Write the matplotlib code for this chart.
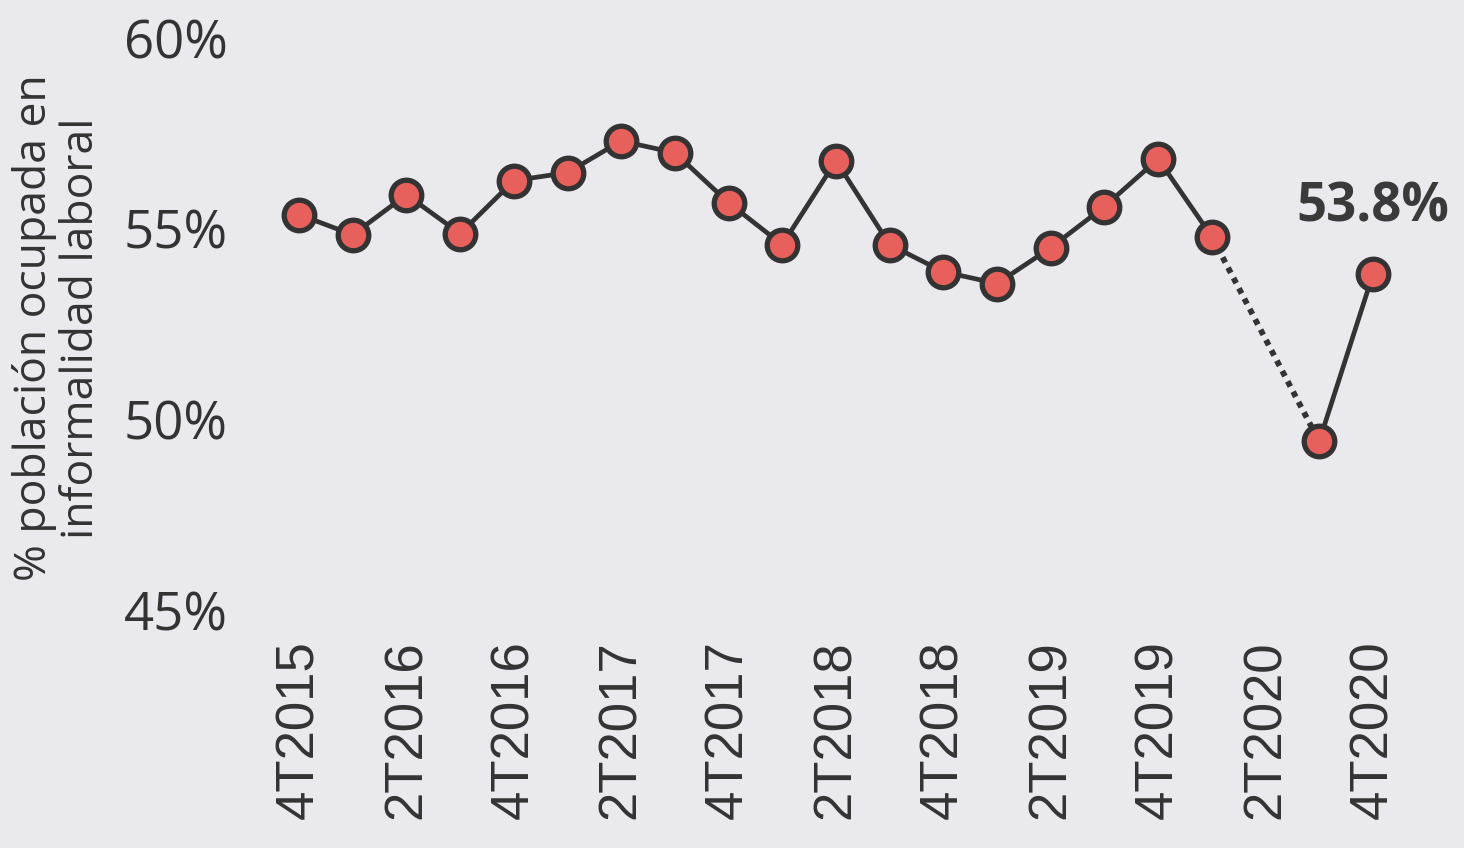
import numpy as np
import matplotlib
matplotlib.use("Agg")
import matplotlib.pyplot as plt

quarters = ["4T2015", "1T2016", "2T2016", "3T2016", "4T2016", "1T2017", "2T2017",
            "3T2017", "4T2017", "1T2018", "2T2018", "3T2018", "4T2018", "1T2019",
            "2T2019", "3T2019", "4T2019", "1T2020", "2T2020", "3T2020", "4T2020"]
values = [55.37, 54.84, 55.89, 54.87, 56.26, 56.47, 57.30, 56.99, 55.68, 54.58,
          56.78, 54.58, 53.87, 53.56, 54.50, 55.58, 56.83, 54.79, np.nan, 49.42, 53.8]
yticks = [45, 50, 55, 60]
last_label = "53.8%"

bg = "#E9E9EE"
dark = "#333333"
red = "#E8605C"

fig = plt.figure(figsize=(14.64, 8.48), dpi=100, facecolor=bg)
W, H = 1464, 848
ax = fig.add_axes([240 / W, (H - 610) / H, 1200 / W, 572 / H])
ax.set_facecolor(bg)

x = np.arange(len(quarters))
v = np.array(values, dtype=float)

# dotted bridge over the missing quarter
gap = np.where(np.isnan(v))[0][0]
ax.plot([x[gap - 1], x[gap + 1]], [v[gap - 1], v[gap + 1]], color=dark, lw=4.2,
        linestyle=(0, (1, 1)), zorder=2, clip_on=False)
ax.plot(x, v, color=dark, lw=3.4, zorder=3, clip_on=False)
ax.plot(x, v, linestyle="none", marker="o", markersize=22, markerfacecolor=red,
        markeredgecolor=dark, markeredgewidth=3.8, zorder=4, clip_on=False)

ax.annotate(last_label, (x[-1], v[-1]), xytext=(0, 48), textcoords="offset points",
            ha="center", va="center", fontsize=38, fontweight="bold",
            color="#3a3a3a", family="Open Sans")

ax.set_xlim(-1.10, 21.25)
ax.set_ylim(45, 60)
ax.set_yticks(yticks)
ax.set_yticklabels([f"{t}%" for t in yticks], family="Open Sans", fontsize=38, color=dark)
ax.set_xticks(x[::2])
ax.set_xticklabels(quarters[::2], rotation=90, family="Liberation Sans", fontsize=38,
                   color=dark, va="top")
ax.tick_params(axis="both", length=0)
ax.tick_params(axis="y", pad=9)
ax.tick_params(axis="x", pad=22)
for s in ax.spines.values():
    s.set_visible(False)

fig.text(58 / W, 1 - 328 / H, "% población ocupada en\ninformalidad laboral",
         rotation=90, ha="center", va="center", fontsize=32, family="Open Sans",
         color=dark, linespacing=1.08)

fig.savefig("out.png", dpi=100, facecolor=bg)
